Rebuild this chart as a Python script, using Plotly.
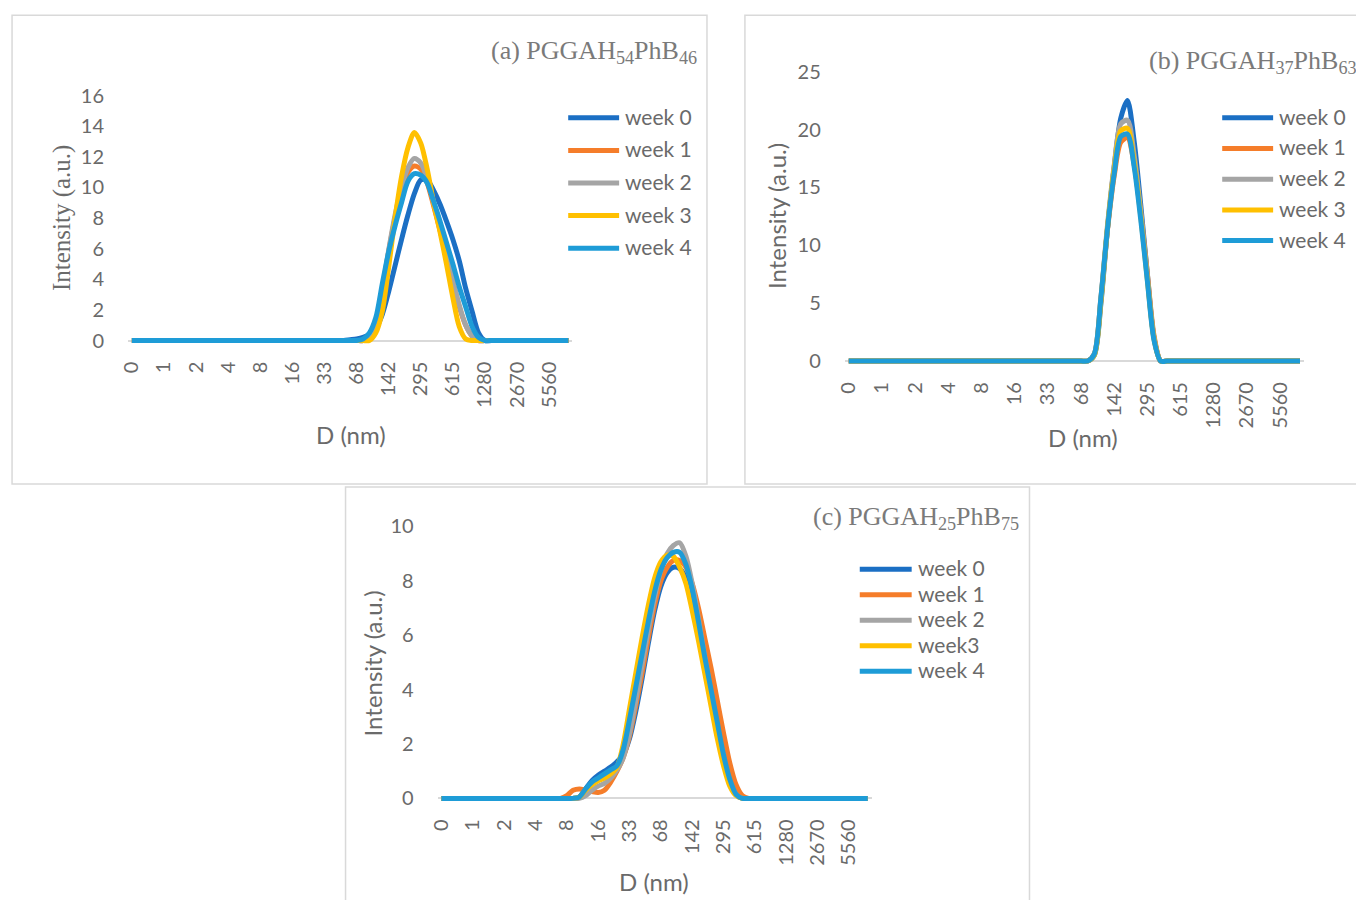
import plotly.graph_objects as go

W, H = 1356, 900
# The page shows the figure with an 8px body margin and the capture is scaled to the window;
# positions below are given in window pixels and mapped back into figure space.
OFF = 8
SX, SY = 1356 / 1364, 900 / 916

# ---------------- data ----------------
# DLS size classes (nm), 69 categories
diameters = ["0.4", "0.4632", "0.5365", "0.6213", "0.7195", "0.8332", "0.9649", "1.117", "1.294", "1.499",
             "1.736", "2.01", "2.328", "2.696", "3.122", "3.615", "4.187", "4.849", "5.615", "6.503",
             "7.531", "8.721", "10.1", "11.7", "13.54", "15.69", "18.17", "21.04", "24.36", "28.21",
             "32.67", "37.84", "43.82", "50.75", "58.77", "68.06", "78.82", "91.28", "105.7", "122.4",
             "141.8", "164.2", "190.1", "220.2", "255", "295.3", "342", "396.1", "458.7", "531.2",
             "615.1", "712.4", "825", "955.4", "1106", "1281", "1484", "1718", "1990", "2305",
             "2669", "3091", "3580", "4145", "4801", "5560", "6439", "7456", "8635"]
tick_labels = ["0", "1", "2", "4", "8", "16", "33", "68", "142", "295", "615", "1280", "2670", "5560"]

names_ab = ["week 0", "week 1", "week 2", "week 3", "week 4"]
names_c = ["week 0", "week 1", "week 2", "week3", "week 4"]

# (a) PGGAH54PhB46
a_week0 = [0] * 34 + [0.05, 0.1, 0.2, 0.4, 0.8, 1.7, 3.2, 4.9, 6.6, 8.2, 9.6, 10.5, 10.5, 9.8, 8.9, 7.8, 6.6, 5.2, 3.4, 1.9, 0.5, 0] + [0] * 13
a_week1 = [0] * 37 + [0.2, 1.2, 3.2, 5.8, 8.0, 9.8, 11.0, 11.4, 11.2, 10.3, 8.8, 7.2, 5.5, 3.8, 2.2, 1.0, 0.3, 0] + [0] * 14
a_week2 = [0] * 37 + [0.2, 1.2, 3.3, 5.9, 8.2, 10.0, 11.3, 11.9, 11.6, 10.6, 9.0, 7.4, 5.6, 3.9, 2.3, 1.0, 0.3, 0] + [0] * 14
a_week3 = [0] * 37 + [0, 0.5, 1.9, 4.8, 8.0, 10.7, 12.6, 13.6, 12.9, 11.2, 9.0, 7.1, 5.0, 2.8, 0.9, 0.1, 0] + [0] * 15
a_week4 = [0] * 36 + [0.1, 0.5, 1.5, 3.7, 5.8, 7.5, 9.0, 10.4, 10.9, 10.8, 10.3, 9.1, 7.8, 6.4, 5.0, 3.5, 2.2, 0.9, 0.2, 0] + [0] * 13

# (b) PGGAH37PhB63
b_week0 = [0] * 36 + [0, 0.5, 5.0, 11.5, 16.8, 21.0, 22.5, 19.0, 13.5, 7.5, 2.0, 0] + [0] * 21
b_week1 = [0] * 36 + [0, 0.6, 5.4, 11.4, 16.0, 18.9, 19.3, 17.0, 12.8, 7.5, 2.2, 0] + [0] * 21
b_week2 = [0] * 36 + [0, 0.6, 5.5, 11.8, 16.9, 20.5, 20.8, 17.8, 12.9, 7.2, 2.0, 0] + [0] * 21
b_week3 = [0] * 36 + [0, 0.5, 5.2, 11.6, 16.6, 19.9, 20.1, 17.2, 12.5, 7.0, 1.9, 0] + [0] * 21
b_week4 = [0] * 36 + [0, 0.6, 5.5, 11.5, 16.2, 19.4, 19.6, 16.8, 12.2, 6.9, 1.8, 0] + [0] * 21

# (c) PGGAH25PhB75
c_week0 = [0] * 22 + [0.05, 0.35, 0.65, 0.85, 1.0, 1.15, 1.35, 1.6, 2.2, 3.2, 4.4, 5.7, 6.9, 7.8, 8.3, 8.5, 8.45, 8.1, 7.3, 6.2, 5.0, 3.8, 2.6, 1.4, 0.6, 0.15, 0] + [0] * 20
c_week1 = [0] * 19 + [0, 0.1, 0.3, 0.35, 0.3, 0.25, 0.22, 0.3, 0.6, 1.0, 1.5, 2.3, 3.4, 4.6, 5.9, 7.1, 8.0, 8.5, 8.75, 8.75, 8.5, 7.9, 7.0, 5.9, 4.8, 3.6, 2.4, 1.3, 0.5, 0.1, 0] + [0] * 19
c_week2 = [0] * 22 + [0, 0.1, 0.3, 0.45, 0.55, 0.75, 1.05, 1.5, 2.4, 3.6, 4.9, 6.2, 7.4, 8.4, 9.0, 9.3, 9.4, 8.9, 7.9, 6.6, 5.2, 3.9, 2.6, 1.4, 0.6, 0.15, 0] + [0] * 20
c_week3 = [0] * 21 + [0, 0.05, 0.3, 0.5, 0.65, 0.75, 0.9, 1.15, 2.0, 3.3, 4.6, 5.9, 7.1, 8.1, 8.7, 8.95, 8.9, 8.5, 7.9, 6.9, 5.8, 4.6, 3.4, 2.2, 1.2, 0.45, 0.1, 0] + [0] * 20
c_week4 = [0] * 21 + [0, 0.05, 0.35, 0.6, 0.75, 0.9, 1.05, 1.2, 1.8, 2.9, 4.1, 5.3, 6.5, 7.6, 8.4, 8.85, 9.05, 9.05, 8.6, 7.7, 6.5, 5.2, 4.0, 2.8, 1.6, 0.7, 0.15, 0] + [0] * 20

panel_series = {
    "a": (names_ab, [a_week0, a_week1, a_week2, a_week3, a_week4]),
    "b": (names_ab, [b_week0, b_week1, b_week2, b_week3, b_week4]),
    "c": (names_c, [c_week0, c_week1, c_week2, c_week3, c_week4]),
}

# ---------------- styling / layout ----------------
colors = ["#1B6FC4", "#F57D2A", "#A5A5A5", "#FFC000", "#1E9CD7"]
GREY_TXT = "#6A6A6A"
TITLE_TXT = "#7A7A7A"
SANS = "Lato"
SERIF = "Liberation Serif"

# window-pixel geometry of each panel: first category x, px per category, y of zero, px per unit
geom = {
    "a": dict(x0=130, dx=6.43, y0=339.5, dy=15.31, ymax=16, dtick=2),
    "b": dict(x0=848, dx=6.646, y0=360, dy=11.58, ymax=25, dtick=5),
    "c": dict(x0=440, dx=6.28, y0=797.5, dy=27.2, ymax=10, dtick=2),
}
axis_ids = {"a": ("x", "y"), "b": ("x2", "y2"), "c": ("x3", "y3")}


def px(x):
    return (x / SX - OFF) / W


def py(y):
    return 1 - (y / SY - OFF) / H


fig = go.Figure()
layout = dict(
    width=W, height=H, margin=dict(l=0, r=0, t=0, b=0),
    paper_bgcolor="white", plot_bgcolor="rgba(0,0,0,0)",
    showlegend=False,
)

PADB = 0.6
PADPX = 4
n = len(diameters)
for key, (names, vals) in panel_series.items():
    g = geom[key]
    xa, ya = axis_ids[key]
    for name, v, col in zip(names, vals, colors):
        fig.add_trace(go.Scatter(
            x=diameters, y=v, name=name, mode="lines",
            line=dict(color=col, width=5, shape="spline", smoothing=0.8),
            xaxis=xa, yaxis=ya, hoverinfo="x+y+name",
        ))
    xl = px(g["x0"] - PADB * g["dx"])
    xr = px(g["x0"] + (n - 1 + PADB) * g["dx"])
    ybot = py(g["y0"] + PADPX)
    ytop = py(g["y0"] - g["ymax"] * g["dy"] - PADPX)
    xname = "xaxis" if xa == "x" else "xaxis" + xa[1:]
    yname = "yaxis" if ya == "y" else "yaxis" + ya[1:]
    layout[xname] = dict(
        type="category", categoryorder="array", categoryarray=diameters,
        domain=[xl, xr], range=[-PADB, n - 1 + PADB], anchor=ya,
        tickvals=diameters[::5], ticktext=tick_labels, tickangle=-90,
        showgrid=False, zeroline=False, showline=False, ticks="",
        tickfont=dict(family=SANS, size=20, color=GREY_TXT),
        ticklabelstandoff=12, fixedrange=True,
    )
    layout[yname] = dict(
        domain=[ybot, ytop], range=[-PADPX / g["dy"], g["ymax"] + PADPX / g["dy"]],
        anchor=xa, tickmode="array",
        tickvals=list(range(0, g["ymax"] + 1, g["dtick"])),
        showgrid=False, zeroline=True, zerolinecolor="#D9D9D9", zerolinewidth=1.5,
        showline=False, ticks="",
        tickfont=dict(family=SANS, size=20, color=GREY_TXT),
        ticklabelstandoff=23, fixedrange=True,
    )

fig.update_layout(**layout)

shapes = []
annotations = []

# panel frames
for (x0, y0, x1, y1) in [(10, 14, 706, 483), (744, 14, 1362, 483), (344, 486, 1029, 906)]:
    shapes.append(dict(type="rect", xref="paper", yref="paper",
                       x0=px(x0), x1=px(x1), y0=py(y1), y1=py(y0),
                       line=dict(color="#D9D9D9", width=1.5), fillcolor="rgba(0,0,0,0)", layer="below"))

# panel titles
titles = [
    ("(a) PGGAH<sub>54</sub>PhB<sub>46</sub>", 698, 51, "right"),
    ("(b) PGGAH<sub>37</sub>PhB<sub>63</sub>", 1147, 61, "left"),
    ("(c) PGGAH<sub>25</sub>PhB<sub>75</sub>", 1020, 517, "right"),
]
for text, x, y, anc in titles:
    annotations.append(dict(text=text, xref="paper", yref="paper", x=px(x), y=py(y),
                            xanchor=anc, yanchor="middle",
                            showarrow=False, font=dict(family=SERIF, size=26, color=TITLE_TXT)))

# axis titles
ytitles = [(60, 217, SERIF, 25), (775, 215, SANS, 24), (371, 662, SANS, 24)]
for x, y, fam, sz in ytitles:
    annotations.append(dict(text="Intensity (a.u.)", xref="paper", yref="paper", x=px(x), y=py(y),
                            xanchor="center", yanchor="middle", textangle=-90, showarrow=False,
                            font=dict(family=fam, size=sz, color=GREY_TXT)))
for x, y in [(349, 433), (1083, 436), (653, 881)]:
    annotations.append(dict(text="D (nm)", xref="paper", yref="paper", x=px(x), y=py(y),
                            xanchor="center", yanchor="middle", showarrow=False,
                            font=dict(family=SANS, size=24, color=GREY_TXT)))

# legends (line sample + label), one per panel
legend_geom = {
    "a": dict(lx0=567, lx1=618, tx=622, y=116.7, step=32.6),
    "b": dict(lx0=1222, lx1=1273, tx=1277, y=116.7, step=30.7),
    "c": dict(lx0=859, lx1=911, tx=915, y=568.3, step=25.5),
}
for key, lg in legend_geom.items():
    names = panel_series[key][0]
    for i, (name, col) in enumerate(zip(names, colors)):
        yy = lg["y"] + i * lg["step"]
        shapes.append(dict(type="line", xref="paper", yref="paper",
                           x0=px(lg["lx0"]), x1=px(lg["lx1"]), y0=py(yy), y1=py(yy),
                           line=dict(color=col, width=5)))
        annotations.append(dict(text=name, xref="paper", yref="paper", x=px(lg["tx"]), y=py(yy - 1.5),
                                xanchor="left", yanchor="middle", showarrow=False,
                                font=dict(family=SANS, size=21, color=GREY_TXT)))

fig.update_layout(shapes=shapes, annotations=annotations)
fig.write_html("out.html")
